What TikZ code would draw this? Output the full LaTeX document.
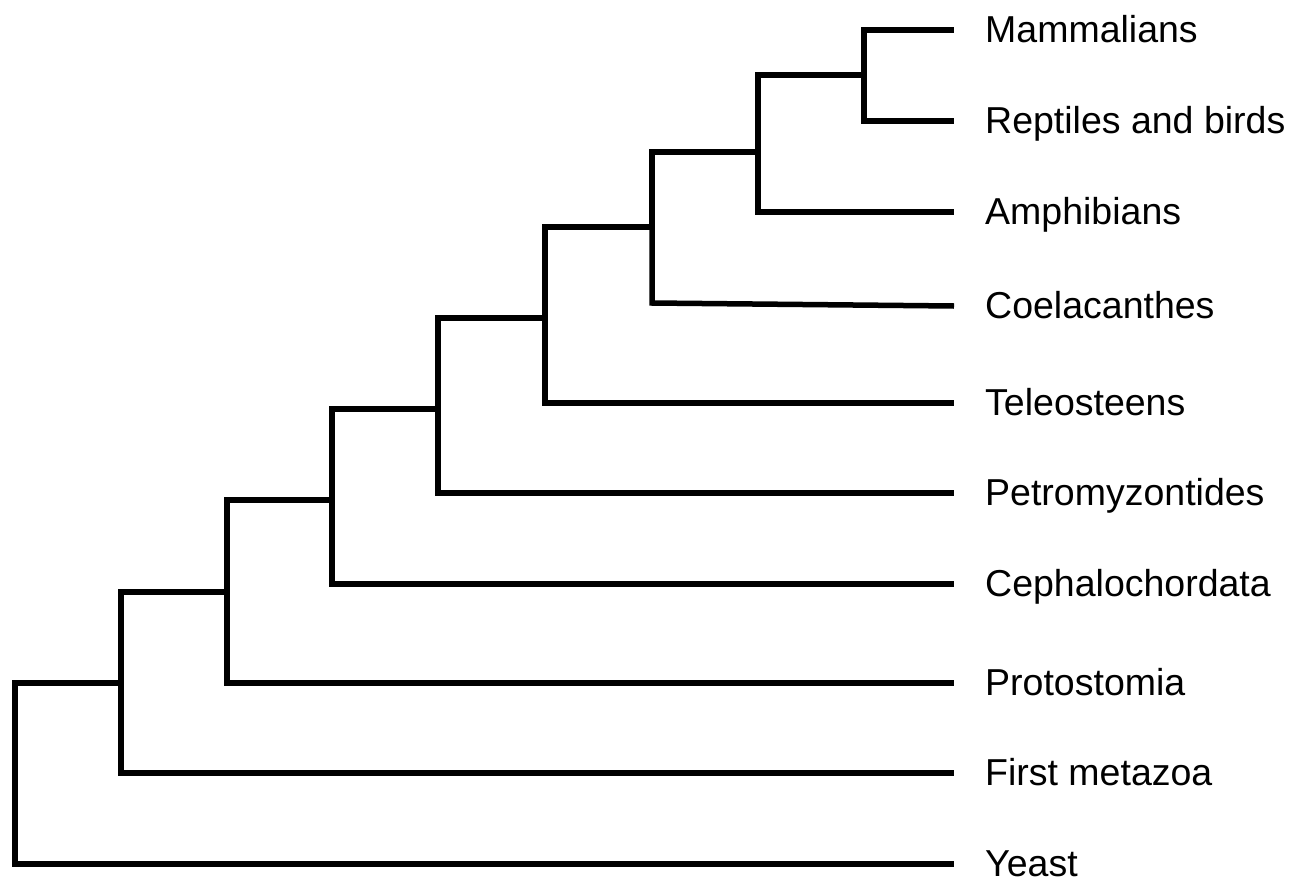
\documentclass[tikz,border=0pt]{standalone}
\usepackage{fontspec}
\setmainfont{Liberation Sans}
\usetikzlibrary{positioning}
\begin{document}
\begin{tikzpicture}[x=1pt,y=-1pt,
  taxon/.style={inner sep=0pt,text height=25.8pt,text depth=0pt,font=\fontsize{37.5}{45}\selectfont}]
\def\xLeaf{954}
\useasboundingbox (0,0) rectangle (1307,878);
% leaf ends
\coordinate (mam) at (\xLeaf,30);
\coordinate (rep) at (\xLeaf,121);
\coordinate (amp) at (\xLeaf,212);
\coordinate (coe) at (\xLeaf,306);
\coordinate (tel) at (\xLeaf,403);
\coordinate (pet) at (\xLeaf,493);
\coordinate (cep) at (\xLeaf,584);
\coordinate (pro) at (\xLeaf,683);
\coordinate (met) at (\xLeaf,773);
\coordinate (yea) at (\xLeaf,864);
% inner nodes
\coordinate (amniota) at (864,75);
\coordinate (tetra) at (758,152);
\coordinate (sarco) at (652,227);
\coordinate (coebase) at (652,303);
\coordinate (osteo) at (545,318);
\coordinate (verte) at (438,409);
\coordinate (chorda) at (332,500);
\coordinate (bilat) at (227,592);
\coordinate (metazoa) at (121,683);
\coordinate (root) at (15,683);

\begin{scope}[every path/.style=draw,line width=5.5pt,line join=miter]
\path (amniota) |- (mam);
\path (amniota) |- (rep);
\path (tetra) |- (amniota);
\path (tetra) |- (amp);
\path (sarco) |- (tetra);
\path (sarco) -- (coebase) -- (coe);
\path (osteo) |- (sarco);
\path (osteo) |- (tel);
\path (verte) |- (osteo);
\path (verte) |- (pet);
\path (chorda) |- (verte);
\path (chorda) |- (cep);
\path (bilat) |- (chorda);
\path (bilat) |- (pro);
\path (metazoa) |- (bilat);
\path (metazoa) |- (met);
\path (metazoa) -- (root) |- (yea);
\end{scope}

\path
node[taxon,right=31pt of mam] (tMam) {Mammalians}
node[taxon,right=31pt of rep] (tRep) {Reptiles and birds}
node[taxon,right=31pt of amp] (tAmp) {Amphibians}
node[taxon,right=31pt of coe] (tCoe) {Coelacanthes}
node[taxon,right=31pt of tel] (tTel) {Teleosteens}
node[taxon,right=31pt of pet] (tPet) {Petromyzontides}
node[taxon,right=31pt of cep] (tCep) {Cephalochordata}
node[taxon,right=31pt of pro] (tPro) {Protostomia}
node[taxon,right=31pt of met] (tMet) {First metazoa}
node[taxon,right=31pt of yea] (tYea) {Yeast}
;
\end{tikzpicture}
\end{document}
